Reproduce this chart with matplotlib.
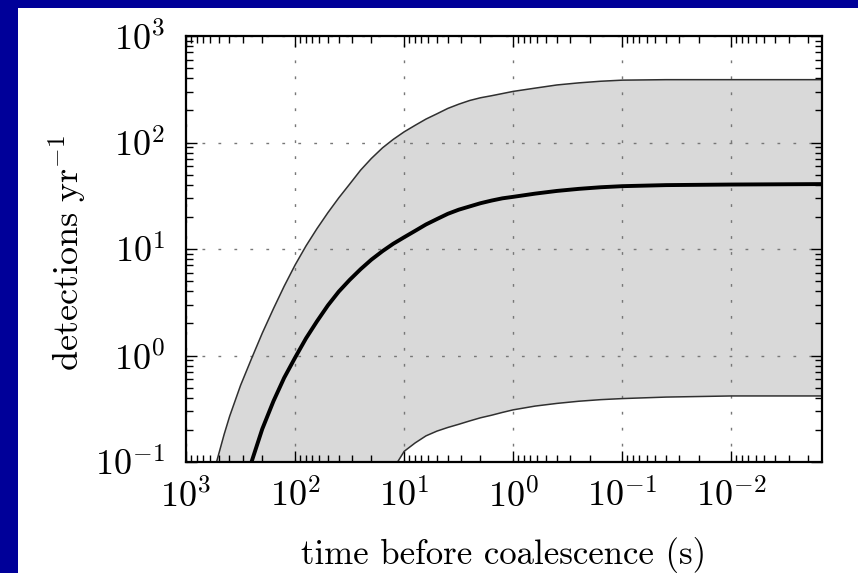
import matplotlib
matplotlib.use("Agg")
import matplotlib.pyplot as plt
from matplotlib.patches import Rectangle

plt.rcParams["mathtext.fontset"] = "cm"
plt.rcParams["font.family"] = ["cmr10", "DejaVu Serif"]
plt.rcParams["axes.formatter.use_mathtext"] = True

# time before coalescence (s) and cumulative detection rates (per year)
t_upper = [525, 447, 398, 316, 251, 200, 158, 126, 100, 79.4, 63.1, 50.1, 39.8, 31.6,
           25.1, 20.0, 15.8, 12.6, 10.0, 7.94, 6.31, 5.01, 3.98, 3.16, 2.51, 2.00, 1.58,
           1.26, 1.00, 0.631, 0.398, 0.251, 0.158, 0.100, 0.0398, 0.0100, 0.00148]
r_upper = [0.100, 0.182, 0.269, 0.525, 0.933, 1.62, 2.75, 4.47, 7.08, 10.7, 15.5, 21.9,
           30.2, 40.7, 55.0, 70.8, 89.1, 107, 126, 145, 166, 186, 209, 229, 248, 263, 275,
           288, 302, 324, 347, 363, 376, 385, 389, 389, 389]

t_mid = [251, 200, 158, 126, 100, 79.4, 63.1, 50.1, 39.8, 31.6, 25.1, 20.0, 15.8, 12.6,
         10.0, 7.94, 6.31, 5.01, 3.98, 3.16, 2.51, 2.00, 1.58, 1.26, 1.00, 0.631, 0.398,
         0.251, 0.158, 0.100, 0.0398, 0.0100, 0.00148]
r_mid = [0.100, 0.204, 0.372, 0.617, 0.955, 1.45, 2.09, 2.95, 3.98, 5.13, 6.46, 7.94, 9.55,
         11.2, 12.9, 14.8, 17.0, 19.1, 21.4, 23.4, 25.1, 26.9, 28.5, 29.9, 30.9, 33.1, 35.1,
         36.7, 38.0, 38.9, 39.8, 40.3, 40.7]

t_lower = [11.5, 10.0, 7.94, 6.31, 5.01, 3.98, 3.16, 2.51, 2.00, 1.58, 1.26, 1.00, 0.631,
           0.398, 0.251, 0.158, 0.100, 0.0398, 0.0100, 0.00148]
r_lower = [0.100, 0.126, 0.151, 0.176, 0.195, 0.211, 0.226, 0.243, 0.260, 0.275, 0.292,
           0.309, 0.335, 0.355, 0.372, 0.385, 0.394, 0.407, 0.417, 0.417]

x_ticks = [1e3, 1e2, 1e1, 1e0, 1e-1, 1e-2]
x_tick_labels = [r"$10^{3}$", r"$10^{2}$", r"$10^{1}$", r"$10^{0}$", r"$10^{-1}$", r"$10^{-2}$"]
y_ticks = [1e-1, 1e0, 1e1, 1e2, 1e3]
y_tick_labels = [r"$10^{-1}$", r"$10^{0}$", r"$10^{1}$", r"$10^{2}$", r"$10^{3}$"]

W, H = 858, 573
fig = plt.figure(figsize=(W / 100, H / 100), dpi=100)
fig.patch.set_facecolor("#000099")
fig.add_artist(Rectangle((18 / W, 0), 1 - 18 / W, 1 - 8 / H,
                         transform=fig.transFigure, facecolor="white",
                         edgecolor="none", zorder=-10))

ax = fig.add_axes([186 / W, 1 - 462 / H, (822 - 186) / W, (462 - 36) / H])
ax.set_xscale("log")
ax.set_yscale("log")
ax.set_xlim(1000, 0.00148)
ax.set_ylim(0.1, 1000)

# shaded band between the optimistic and pessimistic rates
band_t = list(t_upper) + list(t_lower[::-1])
band_r = list(r_upper) + list(r_lower[::-1])
ax.fill(band_t, band_r, facecolor="#d9d9d9", edgecolor="none", zorder=1)

ax.plot(t_upper, r_upper, color="#303030", lw=1.1, zorder=2)
ax.plot(t_lower, r_lower, color="#303030", lw=1.1, zorder=2)
ax.plot(t_mid, r_mid, color="black", lw=2.8, zorder=3, solid_capstyle="butt")

ax.grid(True, which="major", color="#777777", lw=1.0, linestyle=(0, (2, 9.5)))
ax.set_axisbelow("line")

ax.set_xticks(x_ticks)
ax.set_xticklabels(x_tick_labels)
ax.set_yticks(y_ticks)
ax.set_yticklabels(y_tick_labels)
ax.tick_params(which="both", direction="in", top=True, right=True, width=1.0)
ax.tick_params(which="major", length=8, labelsize=26)
ax.tick_params(which="minor", length=5)
ax.tick_params(axis="x", which="major", pad=12)
ax.tick_params(axis="y", which="major", pad=15)
for s in ax.spines.values():
    s.set_linewidth(1.6)

ax.set_xlabel("time before coalescence (s)", fontsize=25)
ax.xaxis.set_label_coords(0.5, -0.175)
ax.set_ylabel(r"$\mathrm{detections\ yr}^{-1}$", fontsize=26)
ax.yaxis.set_label_coords(-0.152, 0.49)

fig.savefig("out.png", dpi=100, facecolor=fig.get_facecolor())
